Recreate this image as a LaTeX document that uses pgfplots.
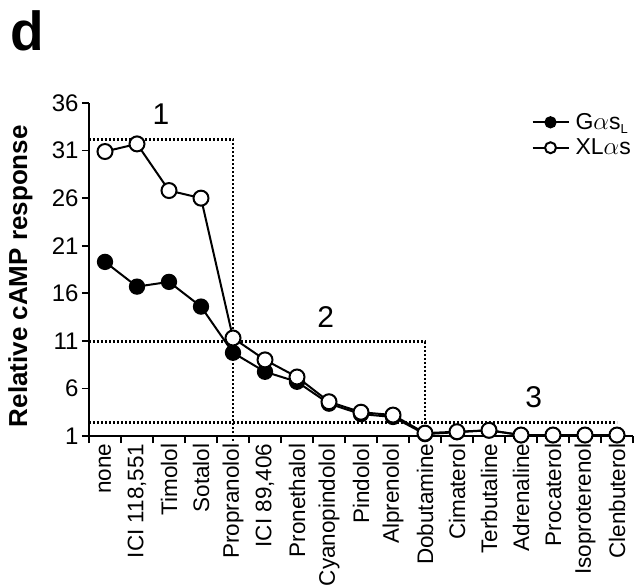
\documentclass[border=0pt]{standalone}
\usepackage{fontspec}
\setmainfont{Liberation Sans}
\usepackage{pgfplots}
\pgfplotsset{compat=1.18}
\begin{document}
\begin{tikzpicture}
\path[use as bounding box] (-89pt,-150pt) rectangle (548pt,436pt);
\begin{axis}[
  scale only axis,
  width=544pt, height=333pt,
  xmin=-0.5, xmax=16.5, ymin=1, ymax=36,
  clip=false,
  axis lines*=left,
  axis line style={line width=1.6pt},
  every tick/.style={line width=1.6pt, black},
  tick align=outside,
  major tick length=7pt,
  minor tick length=7pt,
  ytick={1,6,11,16,21,26,31,36},
  xtick={0,...,16},
  xticklabels={none,ICI 118{,}551,Timolol,Sotalol,Propranolol,ICI 89{,}406,Pronethalol,Cyanopindolol,Pindolol,Alprenolol,Dobutamine,Cimaterol,Terbutaline,Adrenaline,Procaterol,Isoproterenol,Clenbuterol},
  minor xtick={-0.5,0.5,...,16.5},
  every major x tick/.append style={draw=none},
  xticklabel style={rotate=90, anchor=east, font=\fontsize{22.5}{24}\selectfont, xshift=3pt},
  yticklabel style={font=\fontsize{24}{24}\selectfont},
  /pgf/number format/assume math mode=true,
  ylabel={\bfseries Relative cAMP response},
  ylabel style={at={(axis description cs:-0.126,0.48)}, anchor=center, rotate=0, font=\fontsize{26}{28}\selectfont},
  legend style={at={(axis description cs:1.0,0.975)}, anchor=north east, draw=none, fill=none,
    font=\fontsize{23}{23}\selectfont, row sep=4pt, inner sep=0pt, column sep=4pt},
  legend cell align=left,
  legend image code/.code={\draw[#1, mark size=5.5pt, mark repeat=2, mark phase=2] plot coordinates {(0pt,0pt) (18pt,0pt) (36pt,0pt)};},
]
% dotted region boxes
\addplot[black, line width=2.8pt, dash pattern=on 2pt off 2pt, forget plot] coordinates {(-0.5,32.2) (4,32.2) (4,0.4)};
\addplot[black, line width=2.8pt, dash pattern=on 2pt off 2pt, forget plot] coordinates {(-0.5,10.9) (10,10.9) (10,1)};
\addplot[black, line width=2.8pt, dash pattern=on 2pt off 2pt, forget plot] coordinates {(-0.5,2.4) (16,2.4)};
% G alpha s_L
\addplot[black, line width=2pt, mark=*, mark size=7.5pt, mark options={fill=black, line width=1.3pt}] coordinates {
(0,19.3) (1,16.7) (2,17.2) (3,14.6) (4,9.75) (5,7.75) (6,6.7) (7,4.4) (8,3.3) (9,3.0)
(10,1.2) (11,1.4) (12,1.6) (13,1.1) (14,1.1) (15,1.1) (16,1.1)};
\addlegendentry{G$\alpha$s\textsubscript{\fontsize{13}{13}\selectfont L}}
% XL alpha s
\addplot[black, line width=2pt, mark=*, mark size=7.5pt, mark options={fill=white, line width=2pt}] coordinates {
(0,30.9) (1,31.7) (2,26.8) (3,26.0) (4,11.3) (5,9.0) (6,7.2) (7,4.6) (8,3.5) (9,3.2)
(10,1.3) (11,1.45) (12,1.6) (13,1.1) (14,1.1) (15,1.1) (16,1.1)};
\addlegendentry{XL$\alpha$s}
\node[font=\fontsize{30}{30}\selectfont] at (axis cs:1.75,34.8) {1};
\node[font=\fontsize{30}{30}\selectfont] at (axis cs:6.9,13.5) {2};
\node[font=\fontsize{30}{30}\selectfont] at (axis cs:13.4,5.1) {3};
\end{axis}
\node[anchor=north west, inner sep=0pt, font=\fontsize{55}{56}\selectfont\bfseries] at (-79pt,426pt) {d};
\end{tikzpicture}
\end{document}
